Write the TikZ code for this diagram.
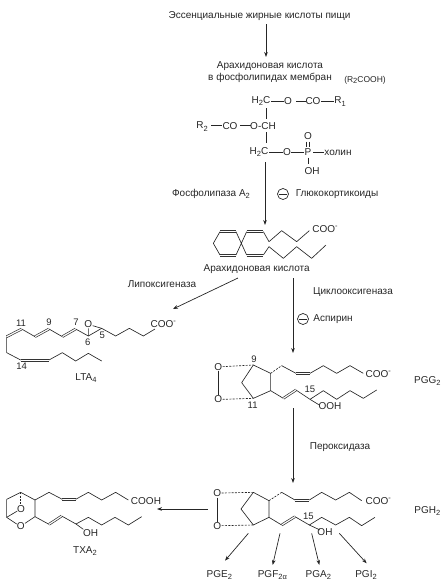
\documentclass[tikz,border=0pt]{standalone}
\usepackage{fontspec}
\setmainfont{Liberation Sans}
\usetikzlibrary{arrows.meta,calc}
\newcommand{\lw}[1]{\raisebox{-.4ex}{\fontsize{7.5}{8}\selectfont #1}}
\newcommand{\up}[1]{\raisebox{.75ex}{\fontsize{7.5}{8}\selectfont #1}}
\newcommand{\dbo}[2]{\draw[dblbond] ($(#1)!1pt!90:(#2)$)--($(#2)!1pt!-90:(#1)$) ($(#1)!1pt!-90:(#2)$)--($(#2)!1pt!90:(#1)$);}
\tikzset{
 z/.style 2 args={shift={(#1,#2)},x=.33333pt,y=-.33333pt},
 bond/.style={line width=.65pt,line join=round,black!85},
 dblbond/.style={line width=.55pt,black!80},
 hash/.style={line width=.65pt,dash pattern=on 2pt off 1.3pt,black!85},
 arr/.style={line width=.7pt,black!85,-{Stealth[length=5pt,width=3.6pt]}},
 lab/.style={inner sep=0pt,font=\fontsize{10}{12}\selectfont,text=black!85},
 num/.style={inner sep=0pt,font=\fontsize{9.5}{11}\selectfont,text=black!85},
 minus/.style={circle,draw=black!85,line width=.7pt,minimum size=11pt,inner sep=0pt},
}
\begin{document}
\begin{tikzpicture}[x=1pt,y=-1pt]
\useasboundingbox (0,0) rectangle (447,582);
% top texts
\node[lab] (t1) at (259.5,16.5) {Эссенциальные жирные кислоты пищи};
\node[lab] (t2) at (270,66) {Арахидоновая кислота};
\node[lab] (t3) at (270,78) {в фосфолипидах мембран};
\node[lab,font=\fontsize{8.5}{10}\selectfont] (t4) at (365,80) {(R\lw{2}COOH)};
\coordinate (a1s) at (266,24); \coordinate (a1e) at (266,57);
\draw[arr] (a1s) -- (a1e);
% phospholipid
\node[lab] (h1) at (261,101) {H\lw{2}C};
\node[lab] (o1) at (288,101) {O};
\node[lab] (co1) at (313,101) {CO};
\node[lab] (r1) at (340,101.5) {R\lw{1}};
\draw[bond] (271,101)--(284,101) (296,101)--(306,101) (321,101)--(334,101);
\node[lab] (r2) at (202,126.5) {R\lw{2}};
\node[lab] (co2) at (230,126) {CO};
\node[lab] (och) at (263,126) {O-CH};
\draw[bond] (211,125)--(222,125) (240,125)--(251,125);
\draw[bond] (266,108)--(266,119) (266,132)--(266,143);
\node[lab] (h2) at (259,152) {H\lw{2}C};
\node[lab] (o2) at (287,152) {O};
\node[lab] (p) at (308,152) {P};
\node[lab] (chol) at (338,152.5) {холин};
\draw[bond] (269,152)--(283,152) (291,152)--(304,152) (313,152)--(324,152);
\node[lab] (o3) at (308,136) {O};
\draw[bond] (306.7,141.5)--(306.7,147) (309.3,141.5)--(309.3,147);
\draw[bond] (308,157.5)--(308,164);
\node[lab] (oh) at (312,171) {OH};
% phospholipase
\coordinate (a2s) at (265,162); \coordinate (a2e) at (265,225);
\draw[arr] (a2s) -- (a2e);
\node[lab] (pla) at (211,194) {Фосфолипаза A\lw{2}};
\node[minus] (m1) at (283,194) {};
\draw[bond] (279,194)--(287,194);
\node[lab] (glu) at (337,194) {Глюкокортикоиды};
% arachidonic acid
\begin{scope}[z={200}{190}]
\draw[bond] (108,125)--(140,195) (108,195)--(140,125);
\draw[bond] (60,125)--(40,160)--(60,195);
\dbo{60,125}{108,125} \dbo{60,195}{108,195} \dbo{140,125}{190,125} \dbo{140,195}{190,195}
\draw[bond] (190,125)--(207,155)--(245,122)--(290,155)--(328,122);
\draw[bond] (190,195)--(207,170)--(250,205)--(290,170)--(335,205)--(378,165);
\node[lab] (coo1) at (375,116) {COO\up{-}};
\node[lab] (ara) at (170,236) {Арахидоновая кислота};
\end{scope}
% branches
\node[lab] (lip) at (162,284) {Липоксигеназа};
\coordinate (a3s) at (238,278); \coordinate (a3e) at (173,309);
\draw[arr] (a3s) -- (a3e);
\node[lab] (cox) at (353,292) {Циклооксигеназа};
\node[minus] (m2) at (303,319) {};
\draw[bond] (299,319)--(307,319);
\node[lab] (asp) at (333,319) {Аспирин};
\coordinate (a4s) at (293,278); \coordinate (a4e) at (293,353);
\draw[arr] (a4s) -- (a4e);
% LTA4
\begin{scope}[z={0}{200}]
\draw[bond] (465,387)--(430,408)--(388,385)--(347,408)--(305,385)--(265,408);
\draw[bond] (265,385)--(265,408) (278,377)--(305,385);
\draw[bond] (265,408)--(227,387);
\dbo{227,387}{187,410}
\draw[bond] (187,410)--(147,387);
\dbo{147,387}{105,410}
\draw[bond] (105,410)--(65,387);
\dbo{65,387}{20,410}
\draw[bond] (20,410)--(20,458)--(62,480);
\dbo{62,480}{147,480}
\draw[bond] (147,480)--(187,458)--(227,483)--(265,460)--(305,483);
\node[lab] (coo2) at (490,373) {COO\up{-}};
\node[lab] (oe) at (265,373) {O};
\node[num] (n11) at (63,370) {11};
\node[num] (n9) at (147,368) {9};
\node[num] (n7) at (228,368) {7};
\node[num] (n6) at (263,428) {6};
\node[num] (n5) at (307,407) {5};
\node[num] (n14) at (65,498) {14};
\end{scope}
\node[lab] (lta) at (86,378) {LTA\lw{4}};
% PGG2
\begin{scope}[z={200}{350}]
\node[lab] (oa) at (55,50) {O};
\node[lab] (ob) at (55,148) {O};
\draw[bond] (55,62)--(55,135);
\draw[hash] (68,50)--(160,45) (68,148)--(160,145);
\draw[bond] (160,45)--(212,70)--(212,122)--(160,145)--(125,98)--cycle;
\draw[hash] (212,70)--(245,47);
\draw[bond] (245,47)--(288,70);
\dbo{288,70}{330,70}
\draw[bond] (330,70)--(370,47)--(410,70)--(450,47)--(490,70);
\draw[bond] (212,122)--(250,145);
\dbo{250,145}{288,120}
\draw[bond] (288,120)--(330,148)--(370,122)--(410,148)--(450,122)--(490,145)--(530,120);
\draw[bond] (330,148)--(358,165);
\node[lab] (coo3) at (535,72) {COO\up{-}};
\node[num] (n15a) at (330,118) {15};
\node[lab] (ooh) at (390,167) {OOH};
\node[num] (n9b) at (162,28) {9};
\node[num] (n11b) at (158,165) {11};
\node[lab] (pgg) at (682,93) {PGG\lw{2}};
\end{scope}
\coordinate (a5s) at (293,408); \coordinate (a5e) at (293,483);
\draw[arr] (a5s) -- (a5e);
\node[lab] (per) at (340,447) {Пероксидаза};
% PGH2
\begin{scope}[z={190}{430}]
\node[lab] (oc) at (82,190) {O};
\node[lab] (od) at (82,288) {O};
\draw[bond] (82,203)--(82,275);
\draw[hash] (95,189)--(190,187) (95,287)--(190,285);
\draw[bond] (190,187)--(237,212)--(237,262)--(190,285)--(153,237)--cycle;
\draw[hash] (237,212)--(275,187);
\draw[bond] (275,187)--(315,210);
\dbo{315,210}{358,210}
\draw[bond] (358,210)--(395,187)--(437,210)--(478,187)--(515,212);
\draw[bond] (237,262)--(275,285);
\dbo{275,285}{315,260}
\draw[bond] (315,260)--(358,285)--(395,262)--(437,285)--(478,262)--(515,287)--(555,262);
\draw[bond] (358,285)--(390,300);
\node[lab] (coo4) at (565,212) {COO\up{-}};
\node[num] (n15b) at (355,258) {15};
\node[lab] (oh2) at (405,305) {OH};
\node[lab] (pgh) at (712,242) {PGH\lw{2}};
\node[lab] (pge) at (88,435) {PGE\lw{2}};
\node[lab] (pgf) at (247,435) {PGF\lw{2α}};
\node[lab] (pga) at (385,435) {PGA\lw{2}};
\node[lab] (pgi) at (528,435) {PGI\lw{2}};
\coordinate (b1s) at (175,310); \coordinate (b1e) at (105,392);
\coordinate (b2s) at (270,310); \coordinate (b2e) at (248,405);
\coordinate (b3s) at (365,310); \coordinate (b3e) at (388,405);
\coordinate (b4s) at (448,310); \coordinate (b4e) at (530,400);
\draw[arr] (b1s)--(b1e);
\draw[arr] (b2s)--(b2e);
\draw[arr] (b3s)--(b3e);
\draw[arr] (b4s)--(b4e);
\end{scope}
% TXA2
\coordinate (a6s) at (208,509); \coordinate (a6e) at (157,509);
\draw[arr] (a6s) -- (a6e);
\begin{scope}[z={0}{440}]
\draw[bond] (20,178)--(62,157)--(105,180)--(105,230)--(75,250);
\draw[bond] (20,178)--(20,232)--(50,252);
\draw[hash] (62,157)--(62,195);
\draw[bond] (52,213)--(20,232);
\node[lab] (ox1) at (63,207) {O};
\node[lab] (ox2) at (62,258) {O};
\draw[bond] (105,180)--(147,157)--(187,178);
\dbo{187,178}{227,178}
\draw[bond] (227,178)--(265,157)--(305,180)--(347,157)--(385,180);
\draw[bond] (105,230)--(147,253);
\dbo{147,253}{185,228}
\draw[bond] (185,228)--(228,252)--(265,232)--(305,255)--(345,232)--(385,255)--(425,230);
\draw[bond] (228,252)--(250,268);
\node[lab] (cooh) at (438,182) {COOH};
\node[lab] (oh3) at (272,278) {OH};
\node[lab] (txa) at (255,333) {TXA\lw{2}};
\end{scope}
\end{tikzpicture}
\end{document}
